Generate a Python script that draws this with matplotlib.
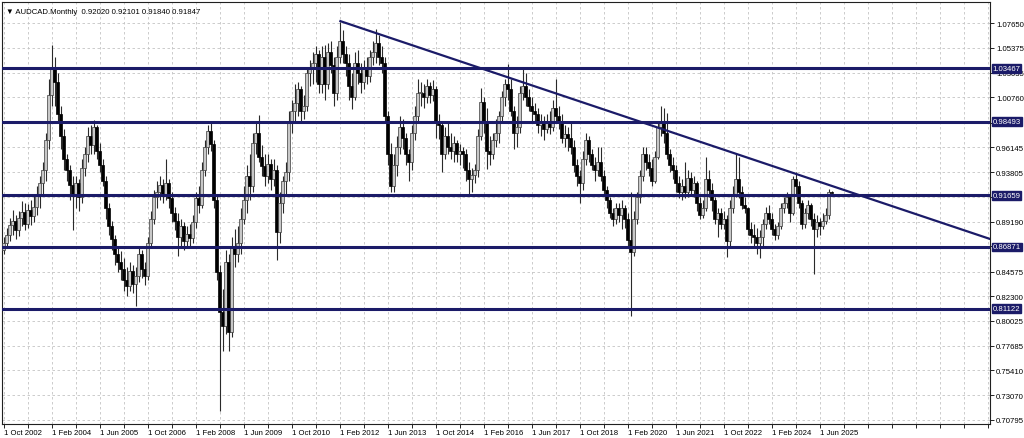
import matplotlib.pyplot as plt
import matplotlib.transforms as mtransforms

plt.rcParams['font.family'] = ['Liberation Sans', 'DejaVu Sans']

# Monthly AUDCAD candles, Oct 2002 .. Oct 2025
first_open = 0.866
closes = [
    0.872, 0.880, 0.889, 0.893, 0.884, 0.896, 0.901, 0.890, 0.903, 0.897,
    0.906, 0.918, 0.928, 0.940, 0.968, 1.010, 1.035, 1.022, 0.992, 0.972,
    0.950, 0.940, 0.926, 0.918, 0.928, 0.915, 0.942, 0.955, 0.972, 0.963,
    0.980, 0.958, 0.945, 0.930, 0.905, 0.888, 0.876, 0.862, 0.855, 0.848,
    0.838, 0.832, 0.846, 0.834, 0.842, 0.862, 0.848, 0.842, 0.872, 0.895,
    0.915, 0.920, 0.926, 0.917, 0.928, 0.914, 0.900, 0.893, 0.878, 0.888,
    0.874, 0.881, 0.877, 0.892, 0.914, 0.908, 0.940, 0.962, 0.976, 0.964,
    0.912, 0.845, 0.808, 0.795, 0.855, 0.790, 0.868, 0.862, 0.872, 0.895,
    0.912, 0.935, 0.925, 0.965, 0.975, 0.952, 0.944, 0.935, 0.946, 0.932,
    0.940, 0.883, 0.910, 0.930, 0.938, 0.985, 0.995, 1.002, 1.015, 0.995,
    1.000, 1.030, 1.035, 1.040, 1.048, 1.020, 1.045, 1.020, 1.050, 1.038,
    1.012, 1.045, 1.060, 1.048, 1.040, 1.018, 1.008, 1.040, 1.030, 1.022,
    1.035, 1.028, 1.045, 1.050, 1.058, 1.045, 1.040, 0.990, 0.955, 0.925,
    0.945, 0.962, 0.980, 0.970, 0.955, 0.948, 0.975, 0.990, 1.012, 1.012,
    1.008, 1.018, 1.010, 1.015, 0.985, 0.982, 0.955, 0.972, 0.962, 0.958,
    0.965, 0.955, 0.958, 0.955, 0.940, 0.932, 0.936, 0.940, 0.972, 1.003,
    0.985, 0.958, 0.955, 0.968, 0.975, 0.990, 1.008, 1.020, 1.015, 0.995,
    0.975, 0.980, 1.012, 1.018, 1.008, 1.000, 0.995, 0.992, 0.982, 0.985,
    0.978, 0.986, 0.980, 0.998, 0.990, 0.985, 0.970, 0.974, 0.970, 0.962,
    0.945, 0.935, 0.928, 0.950, 0.968, 0.955, 0.945, 0.940, 0.948, 0.935,
    0.922, 0.912, 0.900, 0.895, 0.905, 0.898, 0.905, 0.895, 0.875, 0.864,
    0.895, 0.915, 0.935, 0.955, 0.948, 0.942, 0.930, 0.952, 0.980, 0.985,
    0.975, 0.955, 0.945, 0.940, 0.928, 0.920, 0.925, 0.920, 0.933, 0.922,
    0.928, 0.910, 0.898, 0.905, 0.932, 0.922, 0.912, 0.895, 0.900, 0.890,
    0.895, 0.874, 0.905, 0.918, 0.932, 0.920, 0.908, 0.905, 0.885, 0.880,
    0.878, 0.872, 0.878, 0.890, 0.900, 0.895, 0.885, 0.880, 0.888, 0.905,
    0.910, 0.915, 0.900, 0.932, 0.925, 0.910, 0.890, 0.900, 0.908, 0.895,
    0.885, 0.892, 0.888, 0.893, 0.898, 0.9202, 0.91847,
]
highs = [
    0.878, 0.886, 0.896, 0.903, 0.898, 0.902, 0.911, 0.910, 0.909, 0.912,
    0.916, 0.925, 0.935, 0.948, 0.975, 1.025, 1.056, 1.045, 1.030, 1.000,
    0.978, 0.955, 0.945, 0.935, 0.935, 0.932, 0.950, 0.962, 0.980, 0.982,
    0.987, 0.982, 0.965, 0.950, 0.935, 0.910, 0.893, 0.880, 0.870, 0.865,
    0.858, 0.850, 0.855, 0.852, 0.850, 0.868, 0.866, 0.855, 0.878, 0.902,
    0.922, 0.930, 0.935, 0.932, 0.950, 0.932, 0.920, 0.906, 0.900, 0.895,
    0.892, 0.888, 0.890, 0.898, 0.920, 0.925, 0.948, 0.968, 0.982, 0.986,
    0.968, 0.918, 0.852, 0.830, 0.866, 0.862, 0.878, 0.885, 0.888, 0.905,
    0.925, 0.945, 0.955, 0.975, 0.986, 0.991, 0.963, 0.955, 0.955, 0.950,
    0.950, 0.945, 0.920, 0.935, 0.948, 0.995, 1.005, 1.020, 1.022, 1.018,
    1.010, 1.036, 1.042, 1.050, 1.055, 1.052, 1.055, 1.056, 1.058, 1.060,
    1.045, 1.055, 1.078, 1.070, 1.055, 1.048, 1.030, 1.050, 1.052, 1.040,
    1.042, 1.045, 1.052, 1.060, 1.071, 1.066, 1.055, 1.045, 0.995, 0.965,
    0.955, 0.972, 0.990, 0.988, 0.975, 0.960, 0.982, 1.000, 1.025, 1.022,
    1.020, 1.025, 1.022, 1.024, 1.018, 0.992, 0.985, 0.980, 0.985, 0.975,
    0.972, 0.968, 0.964, 0.962, 0.960, 0.948, 0.942, 0.946, 0.978, 1.016,
    1.008, 0.998, 0.972, 0.975, 0.988, 0.995, 1.014, 1.025, 1.039, 1.025,
    1.000, 0.990, 1.018, 1.034, 1.030, 1.015, 1.008, 1.002, 0.998, 0.992,
    0.990, 0.992, 0.995, 1.005, 1.025, 1.000, 0.992, 0.982, 0.980, 0.984,
    0.968, 0.950, 0.940, 0.958, 0.975, 0.972, 0.960, 0.952, 0.962, 0.962,
    0.940, 0.925, 0.915, 0.905, 0.910, 0.910, 0.912, 0.908, 0.900, 0.920,
    0.902, 0.920, 0.940, 0.962, 0.962, 0.955, 0.950, 0.958, 0.986, 1.000,
    0.998, 0.993, 0.960, 0.952, 0.945, 0.935, 0.932, 0.948, 0.940, 0.938,
    0.935, 0.930, 0.915, 0.912, 0.952, 0.940, 0.928, 0.915, 0.905, 0.905,
    0.902, 0.898, 0.912, 0.925, 0.955, 0.952, 0.925, 0.915, 0.906, 0.892,
    0.890, 0.886, 0.884, 0.895, 0.906, 0.908, 0.900, 0.890, 0.892, 0.910,
    0.915, 0.920, 0.918, 0.935, 0.938, 0.930, 0.912, 0.905, 0.912, 0.910,
    0.900, 0.898, 0.896, 0.900, 0.905, 0.923, 0.92101,
]
lows = [
    0.862, 0.868, 0.874, 0.880, 0.876, 0.879, 0.888, 0.884, 0.886, 0.889,
    0.892, 0.898, 0.905, 0.918, 0.930, 0.960, 1.000, 1.000, 0.985, 0.960,
    0.940, 0.930, 0.912, 0.884, 0.905, 0.902, 0.910, 0.935, 0.948, 0.955,
    0.955, 0.950, 0.938, 0.925, 0.895, 0.880, 0.866, 0.852, 0.845, 0.838,
    0.828, 0.823, 0.828, 0.826, 0.814, 0.836, 0.840, 0.833, 0.838, 0.868,
    0.890, 0.905, 0.912, 0.910, 0.912, 0.905, 0.892, 0.884, 0.860, 0.870,
    0.866, 0.868, 0.870, 0.872, 0.886, 0.900, 0.905, 0.935, 0.955, 0.958,
    0.905, 0.838, 0.716, 0.772, 0.788, 0.772, 0.785, 0.850, 0.855, 0.862,
    0.890, 0.900, 0.912, 0.920, 0.955, 0.948, 0.935, 0.925, 0.928, 0.922,
    0.925, 0.857, 0.872, 0.900, 0.918, 0.930, 0.975, 0.985, 0.990, 0.985,
    0.988, 0.995, 1.018, 1.020, 1.022, 1.012, 1.012, 1.005, 1.015, 1.030,
    1.000, 1.005, 1.040, 1.040, 1.028, 1.005, 0.997, 1.005, 1.020, 1.012,
    1.015, 1.020, 1.022, 1.038, 1.040, 1.038, 1.030, 0.985, 0.945, 0.920,
    0.920, 0.935, 0.955, 0.960, 0.945, 0.930, 0.940, 0.968, 0.985, 1.000,
    0.998, 1.002, 1.002, 1.004, 0.970, 0.969, 0.938, 0.950, 0.955, 0.950,
    0.948, 0.948, 0.945, 0.942, 0.930, 0.916, 0.920, 0.928, 0.934, 0.968,
    0.975, 0.941, 0.945, 0.950, 0.962, 0.965, 0.985, 1.000, 1.005, 0.990,
    0.960, 0.962, 0.975, 1.005, 1.000, 0.995, 0.985, 0.985, 0.975, 0.972,
    0.968, 0.975, 0.974, 0.976, 0.985, 0.978, 0.965, 0.962, 0.958, 0.955,
    0.938, 0.925, 0.910, 0.922, 0.945, 0.948, 0.940, 0.930, 0.935, 0.930,
    0.918, 0.905, 0.896, 0.888, 0.890, 0.892, 0.885, 0.886, 0.868, 0.805,
    0.860, 0.890, 0.910, 0.930, 0.940, 0.935, 0.925, 0.928, 0.950, 0.972,
    0.965, 0.950, 0.938, 0.932, 0.920, 0.914, 0.912, 0.914, 0.915, 0.918,
    0.915, 0.902, 0.895, 0.896, 0.902, 0.915, 0.902, 0.890, 0.878, 0.885,
    0.885, 0.859, 0.870, 0.900, 0.915, 0.914, 0.904, 0.900, 0.880, 0.872,
    0.870, 0.862, 0.858, 0.870, 0.885, 0.890, 0.880, 0.875, 0.876, 0.885,
    0.900, 0.905, 0.892, 0.898, 0.918, 0.905, 0.885, 0.886, 0.895, 0.888,
    0.844, 0.878, 0.880, 0.885, 0.890, 0.895, 0.91840,
]
opens = [first_open] + closes[:-1]

# support / resistance levels and the falling trendline
levels = [1.03467, 0.98493, 0.91659, 0.86871, 0.81122]
trend_x = [112.3, 329.5]
trend_y = [1.0785, 0.8755]

# axis ticks
y_ticks = [1.07650, 1.05375, 1.03035, 1.00760, 0.98420, 0.96145, 0.93805, 0.91530, 0.89190,
           0.86915, 0.84575, 0.82300, 0.80025, 0.77685, 0.75410, 0.73070, 0.70795]
y_hidden = [0.98420, 0.91530, 0.86915]   # covered by the level boxes
date_labels = ['1 Oct 2002', '1 Feb 2004', '1 Jun 2005', '1 Oct 2006', '1 Feb 2008', '1 Jun 2009',
               '1 Oct 2010', '1 Feb 2012', '1 Jun 2013', '1 Oct 2014', '1 Feb 2016', '1 Jun 2017',
               '1 Oct 2018', '1 Feb 2020', '1 Jun 2021', '1 Oct 2022', '1 Feb 2024', '1 Jun 2025']
header = '\u25bc AUDCAD.Monthly  0.92020 0.92101 0.91840 0.91847'

navy = '#1b1b68'
fs = 5.6
W, H = 1024, 439
fig = plt.figure(figsize=(W / 100, H / 100), dpi=100)
ax = fig.add_axes([2 / W, 14 / H, 988 / W, 422 / H])

# candles: wicks then bodies
n = len(closes)
xs = list(range(n))
ax.vlines(xs, lows, highs, color='#2a2a2a', linewidth=0.8, zorder=2)
for i in xs:
    o, c = opens[i], closes[i]
    bottom = min(o, c)
    height = max(abs(c - o), 0.0006)
    if c >= o:
        ax.bar(i, height, bottom=bottom, width=0.7, color='#c8c8c8', edgecolor='#3a3a3a',
               linewidth=0.5, zorder=3)
    else:
        ax.bar(i, height, bottom=bottom, width=0.7, color='black', edgecolor='black',
               linewidth=0.5, zorder=3)

# horizontal levels with value boxes on the price scale
trans = mtransforms.blended_transform_factory(ax.transAxes, ax.transData)
for lv in levels:
    ax.axhline(lv, color=navy, linewidth=2.2, zorder=4)
    ax.text(1.0025, lv, '%.5f' % lv, transform=trans, color='white', fontsize=fs,
            va='center', ha='left', clip_on=False, zorder=6,
            bbox=dict(boxstyle='square,pad=0.12', facecolor=navy, edgecolor=navy))

# trendline
ax.plot(trend_x, trend_y, color=navy, linewidth=1.6, zorder=4)

ax.set_xlim(-0.5, -0.5 + 988 / 3)
ax.set_ylim(0.7042, 1.0963)

# grid every 8 months, date labels every 16
grid_x = list(range(0, 330, 8))
ax.set_xticks(grid_x)
ax.set_xticklabels(['' for g in grid_x])
xtrans = mtransforms.blended_transform_factory(ax.transData, ax.transAxes)
for k, lab in enumerate(date_labels):
    ax.text(k * 16 + 0.3, -0.012, lab, transform=xtrans, fontsize=fs, va='top', ha='left')

ax.yaxis.tick_right()
ax.set_yticks(y_ticks)
ax.set_yticklabels(['' if t in y_hidden else '%.5f' % t for t in y_ticks], fontsize=fs)
ax.tick_params(axis='y', length=3, width=0.6, pad=1.5)
ax.tick_params(axis='x', length=3, width=0.6, direction='out')
ax.grid(True, color='#c4c4c4', linestyle=(0, (3, 3)), linewidth=0.6, zorder=0)

for side in ['top', 'left', 'bottom', 'right']:
    ax.spines[side].set_linewidth(0.8)
    ax.spines[side].set_color('#202020')

ax.text(0.004, 0.985, header, transform=ax.transAxes, fontsize=fs, va='top', ha='left')

plt.savefig('out.png', dpi=100, facecolor='white')
